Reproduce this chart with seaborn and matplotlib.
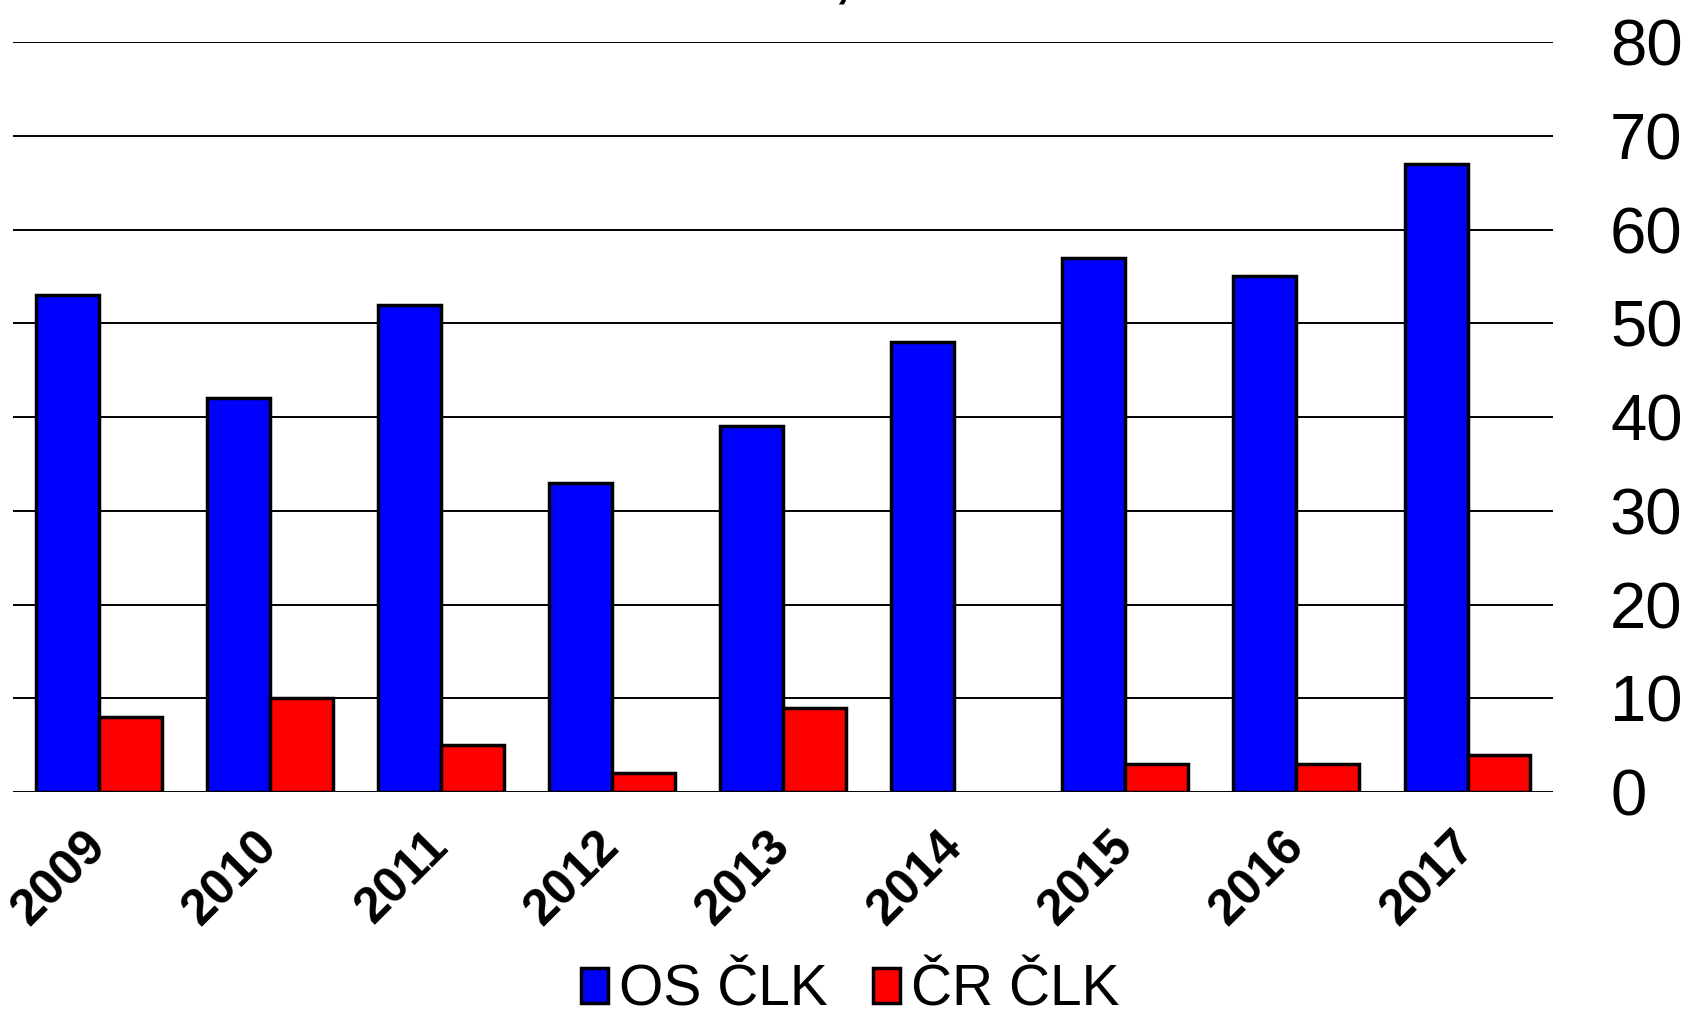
import numpy as np
import pandas as pd
import matplotlib
matplotlib.use("Agg")
import matplotlib.pyplot as plt
import seaborn as sns

# data
years = ["2009", "2010", "2011", "2012", "2013", "2014", "2015", "2016", "2017"]
os_clk = [53, 42, 52, 33, 39, 48, 57, 55, 67]
cr_clk = [8, 10, 5, 2, 9, np.nan, 3, 3, 4]
series_names = ["OS ČLK", "ČR ČLK"]
y_ticks = [0, 10, 20, 30, 40, 50, 60, 70, 80]

df = pd.DataFrame({
    "rok": years * 2,
    "pocet": os_clk + cr_clk,
    "serie": [series_names[0]] * len(years) + [series_names[1]] * len(years),
})

sns.set_style("white")
plt.rcParams["font.family"] = ["Liberation Sans", "DejaVu Sans"]
plt.rcParams["text.color"] = "black"
plt.rcParams["xtick.color"] = "black"
plt.rcParams["ytick.color"] = "black"

fig = plt.figure(figsize=(16.94, 10.15), dpi=100)
ax = fig.add_axes([0.0077, 0.2197, 0.9091, 0.7389])

sns.barplot(data=df, x="rok", y="pocet", hue="serie", order=years,
            hue_order=series_names, palette=["#0000ff", "#ff0000"],
            saturation=1, width=0.736, gap=0, edgecolor="black",
            linewidth=2.5, ax=ax, zorder=3)

ax.set_ylim(0, 80)
ax.set_xlim(-0.5, len(years) - 0.5)
ax.set_yticks(y_ticks)
ax.yaxis.tick_right()
ax.tick_params(axis="y", length=0, pad=41, labelsize=47, labelcolor="black")
ax.tick_params(axis="x", length=0, pad=34, labelcolor="black")
ax.grid(axis="y", color="black", linewidth=1.4, zorder=0)
ax.set_axisbelow(True)
for s in ax.spines.values():
    s.set_visible(False)
ax.set_xlabel("")
ax.set_ylabel("")

for lab in ax.get_xticklabels():
    lab.set_rotation(45)
    lab.set_ha("right")
    lab.set_va("center")
    lab.set_rotation_mode("anchor")
    lab.set_fontweight("bold")
    lab.set_fontsize(36)

handles, labels = ax.get_legend_handles_labels()
ax.legend_.remove()
leg = fig.legend(handles, labels, loc="center", bbox_to_anchor=(0.502, 0.024),
                 ncol=2, frameon=False, fontsize=41, handlelength=0.47,
                 handleheight=0.55, handletextpad=0.2, columnspacing=0.8,
                 borderpad=0)
for t in leg.get_texts():
    t.set_color("black")

# clipped title fragment at the top edge
fig.text(0.497, 1.004, ",", fontsize=40, fontweight="bold", color="black",
         ha="center", va="baseline")

fig.savefig("out.png", dpi=100)
